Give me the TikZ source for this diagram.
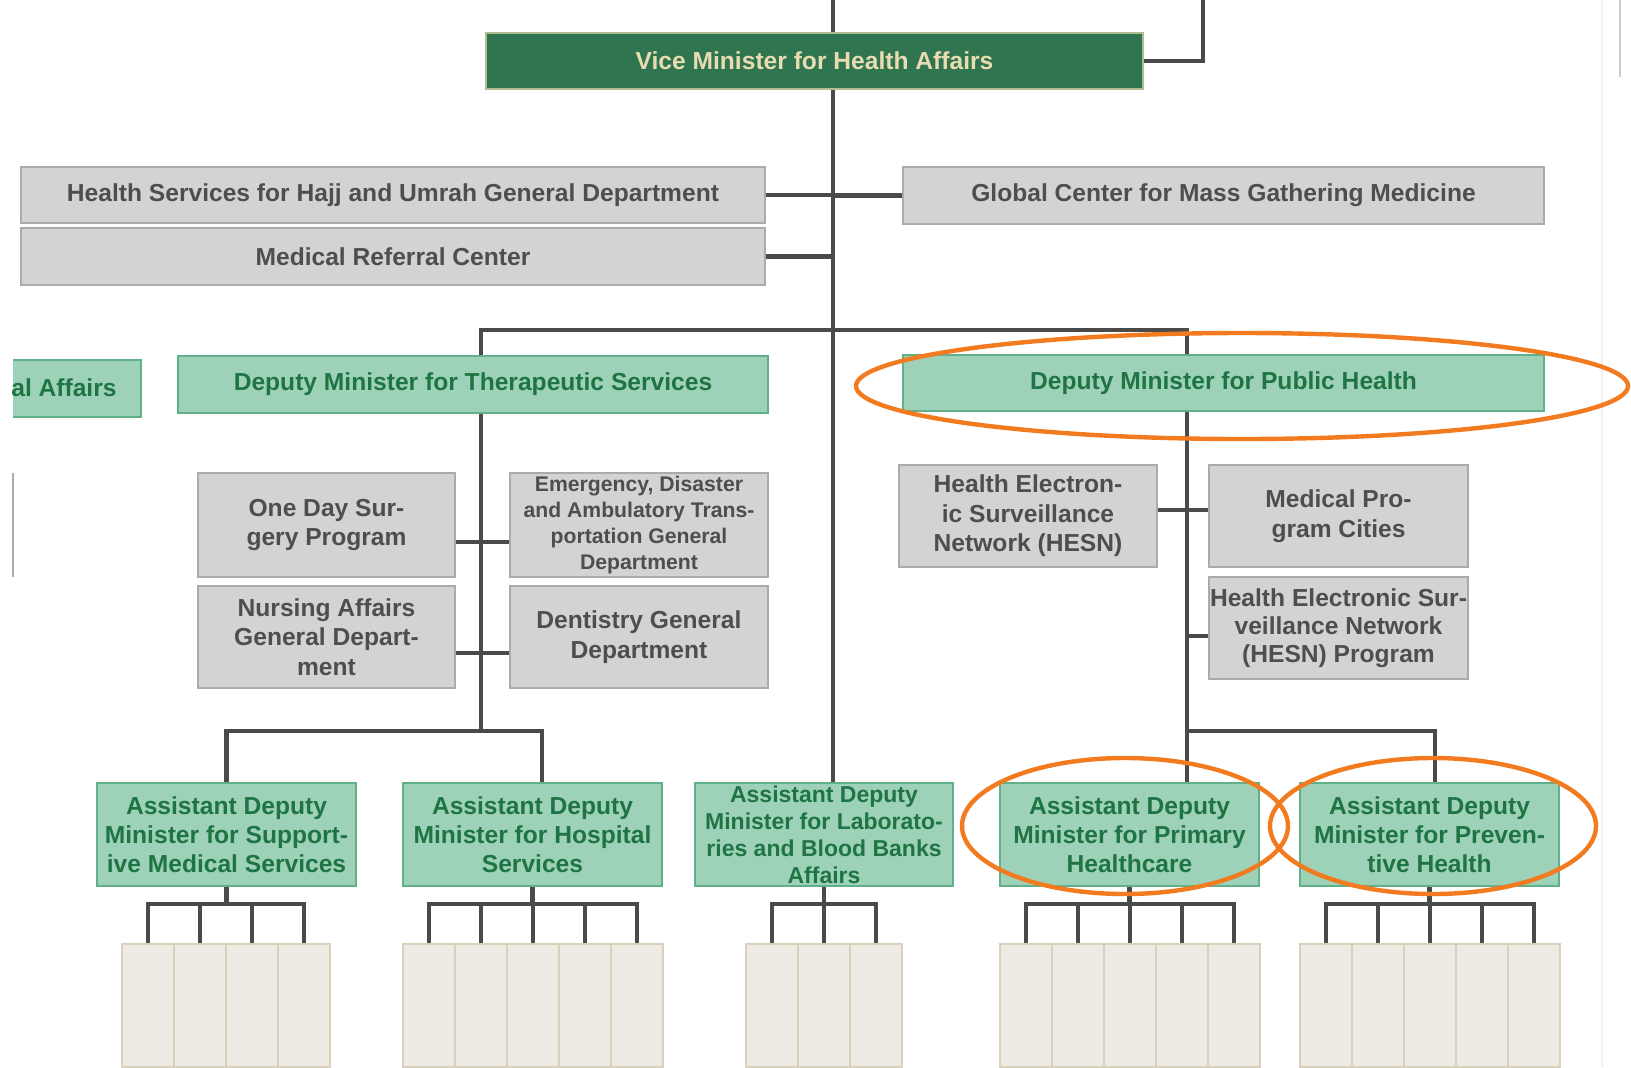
\documentclass[tikz,border=0pt]{standalone}
\usepackage{fontspec}
\setmainfont{Liberation Sans}
\usetikzlibrary{positioning}
\definecolor{viceGreen}{HTML}{2E7550}
\definecolor{viceText}{HTML}{E8DCB0}
\definecolor{mintFill}{HTML}{9DD2B9}
\definecolor{mintEdge}{HTML}{62B08A}
\definecolor{mintText}{HTML}{1F7444}
\definecolor{greyFill}{HTML}{D3D3D3}
\definecolor{greyEdge}{HTML}{ABABAB}
\definecolor{greyText}{HTML}{4E4E4E}
\definecolor{unitFill}{HTML}{EEEBE4}
\definecolor{unitEdge}{HTML}{DAD1BC}
\definecolor{linkGrey}{HTML}{4A4A4A}
\definecolor{ringOrange}{HTML}{F27A1F}

\begin{document}
\begin{tikzpicture}[x=0.5pt, y=-0.5pt,
    viceBox/.style={rectangle, draw=viceText!70!viceGreen, fill=viceGreen, text=viceText, line width=0.8pt, inner sep=0pt, font=\bfseries\fontsize{12.3}{14}\selectfont},
    deputyBox/.style={rectangle, draw=mintEdge, fill=mintFill, text=mintText, line width=1pt, inner sep=0pt, align=center, font=\bfseries\fontsize{12.3}{14.6}\selectfont},
    officeBox/.style={rectangle, draw=greyEdge, fill=greyFill, text=greyText, line width=1pt, inner sep=0pt, align=center, font=\bfseries\fontsize{12.3}{14.8}\selectfont},
    unitCol/.style={rectangle, draw=unitEdge, fill=unitFill, line width=0.8pt, minimum width=26pt, minimum height=61.5pt, inner sep=0pt},
    linkLine/.style={draw=linkGrey, line width=2.2pt},
    markRing/.style={draw=ringOrange, line width=2.2pt}
]
    \useasboundingbox[fill=white] (0,0) rectangle (1631,1067);
    \draw[gray!12, line width=0.6pt] (1602,0) -- (1602,1067);
    \draw[gray!40, line width=0.6pt] (1620,0) -- (1620,77);

    % top level
    \node[viceBox, minimum width=328.5pt, minimum height=28pt] (vice) at (814.5,61) {Vice Minister for Health Affairs};

    \node[officeBox, minimum width=372pt, minimum height=28pt] (hajj) at (393,195) {Health Services for Hajj and Umrah General Department};
    \node[officeBox, minimum width=372pt, minimum height=28.5pt] (referral) at (393,256.5) {Medical Referral Center};
    \node[officeBox, minimum width=320.5pt, minimum height=28.5pt] (global) at (1223.5,195.5) {Global Center for Mass Gathering Medicine};

    % deputies
    \fill[mintFill] (13,360) rectangle (141,417);
    \draw[mintEdge, line width=1pt] (13,360) -- (141,360) -- (141,417) -- (13,417);
    \node[text=mintText, font=\bfseries\fontsize{12.3}{14}\selectfont, anchor=east, inner sep=0pt] (cutAffairs) at (117,388) {al Affairs};
    \draw[greyEdge, line width=1pt] (13,473) -- (13,577);

    \node[deputyBox, minimum width=295pt, minimum height=28.5pt] (therap) at (473,384.5) {Deputy Minister for Therapeutic Services};
    \node[deputyBox, minimum width=320.5pt, minimum height=28pt] (publicH) at (1223.5,383) {Deputy Minister for Public Health};

    \node[officeBox, minimum width=128.5pt, minimum height=52pt] (oneDay) at (326.5,525) {One Day Sur-\\gery Program};
    \node[officeBox, minimum width=129pt, minimum height=52pt, font=\bfseries\fontsize{10.6}{12.9}\selectfont] (emergency) at (639,525) {Emergency, Disaster\\and Ambulatory Trans-\\portation General\\Department};
    \node[officeBox, minimum width=128.5pt, minimum height=51pt] (nursing) at (326.5,637) {Nursing Affairs\\General Depart-\\ment};
    \node[officeBox, minimum width=129pt, minimum height=51pt] (dentistry) at (639,637) {Dentistry General\\Department};

    \node[officeBox, minimum width=129pt, minimum height=51pt] (hesnL) at (1028,516) {Health Electron-\\ic Surveillance\\Network (HESN)};
    \node[officeBox, minimum width=129.5pt, minimum height=51pt] (cities) at (1338.5,516) {Medical Pro-\\gram Cities};
    \node[officeBox, minimum width=129.5pt, minimum height=51pt, font=\bfseries\fontsize{12.3}{14}\selectfont] (hesnProg) at (1338.5,628) {Health Electronic Sur-\\veillance Network\\(HESN) Program};

    % assistant deputies
    \node[deputyBox, minimum width=129.5pt, minimum height=51.5pt] (sup) at (226.5,834.5) {Assistant Deputy\\Minister for Support-\\ive Medical Services};
    \node[deputyBox, minimum width=129.5pt, minimum height=51.5pt] (hos) at (532.5,834.5) {Assistant Deputy\\Minister for Hospital\\Services};
    \node[deputyBox, minimum width=129pt, minimum height=51.5pt] (lab) at (824,834.5) {};
    \node[text=mintText, align=center, inner sep=0pt, font=\bfseries\fontsize{11.5}{13.5}\selectfont] (labText) at (lab.center) {Assistant Deputy\\Minister for Laborato-\\ries and Blood Banks\\Affairs};
    \node[deputyBox, minimum width=129.5pt, minimum height=51.5pt] (pri) at (1129.5,834.5) {Assistant Deputy\\Minister for Primary\\Healthcare};
    \node[deputyBox, minimum width=129.5pt, minimum height=51.5pt] (pre) at (1429.5,834.5) {Assistant Deputy\\Minister for Preven-\\tive Health};

    % junctions
    \coordinate (spineTop) at (833,0);
    \coordinate (upRight) at (1203,0);
    \coordinate (depBarL) at (481,330);
    \coordinate (depBarR) at (1187,330);
    \coordinate (therBar) at (481,731);
    \coordinate (pubBar) at (1187,731);
    \coordinate (tRow1) at (481,542);
    \coordinate (tRow2) at (481,653);
    \coordinate (pRow1) at (1187,510);
    \coordinate (pRow2) at (1187,636);

    \draw[linkLine] (spineTop) -- (spineTop |- vice.north);
    \draw[linkLine] (vice.east) -| (upRight);
    \draw[linkLine] (spineTop |- vice.south) -- (spineTop |- lab.north);
    \draw[linkLine] (hajj.east) -- (hajj.east -| spineTop);
    \draw[linkLine] (referral.east) -- (referral.east -| spineTop);
    \draw[linkLine] (global.west) -- (global.west -| spineTop);
    \draw[linkLine] (depBarL |- therap.north) -- (depBarL) -- (depBarR) -- (depBarR |- publicH.north);

    \draw[linkLine] (depBarL |- therap.south) -- (therBar);
    \draw[linkLine] (oneDay.east |- tRow1) -- (emergency.west |- tRow1);
    \draw[linkLine] (nursing.east |- tRow2) -- (dentistry.west |- tRow2);
    \draw[linkLine] (sup.north) |- (therBar) -| ([xshift=4.75pt]hos.north);

    \draw[linkLine] (depBarR |- publicH.south) -- (pubBar);
    \draw[linkLine] (hesnL.east |- pRow1) -- (cities.west |- pRow1);
    \draw[linkLine] (pRow2) -- (hesnProg.west |- pRow2);
    \draw[linkLine] (pubBar |- pri.north) -- (pubBar) -| ([xshift=2.75pt]pre.north);

    % units under each assistant deputy
    \foreach \grp/\xa/\n in {sup/122/4, hos/403/5, lab/746/3, pri/1000/5, pre/1300/5}{
        \foreach \i in {1,...,\n}{
            \node[unitCol] (\grp\i) at ({\xa+26+52*(\i-1)},1005.5) {};
            \draw[linkLine] (\grp.south) -- ++(0,17) -| (\grp\i.north);
        }
    }

    % highlights
    \draw[markRing] (1242,386) ellipse [x radius=193pt, y radius=26.5pt];
    \draw[markRing] (1125,826) ellipse [x radius=81.5pt, y radius=34pt];
    \draw[markRing] (1433,826) ellipse [x radius=81.5pt, y radius=34pt];
\end{tikzpicture}
\end{document}
